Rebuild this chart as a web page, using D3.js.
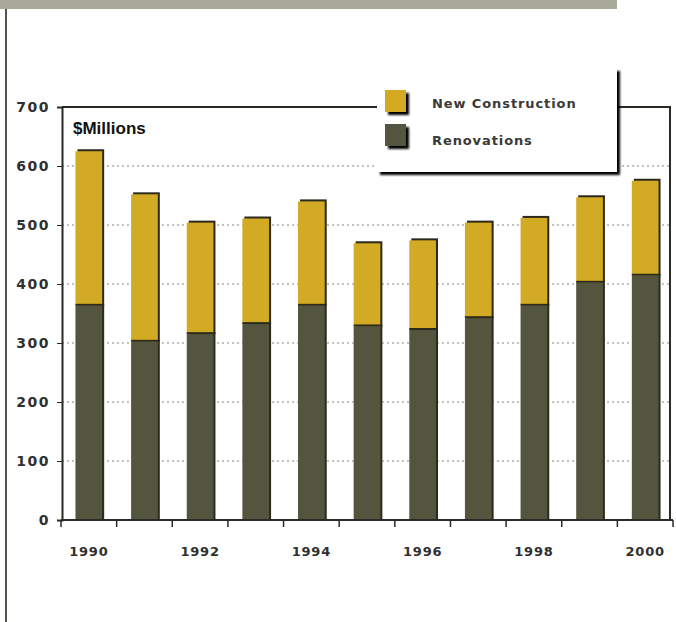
<!DOCTYPE html>
<html>
<head>
<meta charset="utf-8">
<script src="https://cdn.jsdelivr.net/npm/d3@7"></script>
<style>
  body { margin: 0; background: #fff; }
  svg { display: block; font-family: "Liberation Sans", Arial, sans-serif; }
</style>
</head>
<body>
<div id="chart"></div>
<script>
const years = [1990, 1991, 1992, 1993, 1994, 1995, 1996, 1997, 1998, 1999, 2000];
const renovations = [363, 302, 315, 332, 363, 328, 322, 342, 363, 402, 414];
const newConstruction = [262, 250, 189, 179, 177, 141, 152, 162, 149, 145, 161];
const yTicks = [0, 100, 200, 300, 400, 500, 600, 700];
const seriesNames = ["New Construction", "Renovations"];
const colors = { "New Construction": "#d3aa24", "Renovations": "#53553f" };

const W = 676, H = 622;
const svg = d3.select("#chart").append("svg").attr("width", W).attr("height", H);

const x = d3.scaleBand().domain(years).range([61, 673]).paddingInner(0.52).paddingOuter(0.26);
const y = d3.scaleLinear().domain([0, 700]).range([520, 107]);

const defs = svg.append("defs");
const f = defs.append("filter").attr("id", "shadow").attr("x", "-10%").attr("y", "-10%").attr("width", "130%").attr("height", "130%");
f.append("feGaussianBlur").attr("in", "SourceAlpha").attr("stdDeviation", 1.2);
f.append("feOffset").attr("dx", 3).attr("dy", 3).attr("result", "b");
const m = f.append("feMerge");
m.append("feMergeNode").attr("in", "b");
m.append("feMergeNode").attr("in", "SourceGraphic");

// page decoration
svg.append("rect").attr("x", 0).attr("y", 0).attr("width", 617).attr("height", 9).attr("fill", "#a9a99a");
svg.append("rect").attr("x", 5).attr("y", 9).attr("width", 2).attr("height", H - 9).attr("fill", "#55554a");

// gridlines
svg.append("g").selectAll("line").data(yTicks.filter(d => d > 0 && d < 700)).enter().append("line")
  .attr("x1", 62).attr("x2", 670)
  .attr("y1", d => y(d)).attr("y2", d => y(d))
  .attr("stroke", "#8a8a80").attr("stroke-width", 1.2).attr("stroke-dasharray", "2,3");

// frame top/right
svg.append("path").attr("d", `M62,${y(700)}H670V520`).attr("fill", "none").attr("stroke", "#2a2a25").attr("stroke-width", 2);

// bars
const stack = years.map((yr, i) => ({ year: yr, r: renovations[i], n: newConstruction[i] }));
const bars = svg.append("g");
bars.selectAll(".sh").data(stack).enter().append("rect")
  .attr("x", d => x(d.year) + 2).attr("y", d => y(d.r + d.n) - 2)
  .attr("width", x.bandwidth()).attr("height", d => 520 - y(d.r + d.n) + 2)
  .attr("fill", "#2c2a1c");
bars.selectAll(".nc").data(stack).enter().append("rect")
  .attr("x", d => x(d.year)).attr("y", d => y(d.r + d.n))
  .attr("width", x.bandwidth()).attr("height", d => y(d.r) - y(d.r + d.n))
  .attr("fill", colors["New Construction"]);
bars.selectAll(".rl").data(stack).enter().append("rect")
  .attr("x", d => x(d.year)).attr("y", d => y(d.r) - 2)
  .attr("width", x.bandwidth() + 2).attr("height", 2)
  .attr("fill", "#2c2a1c");
bars.selectAll(".rn").data(stack).enter().append("rect")
  .attr("x", d => x(d.year)).attr("y", d => y(d.r))
  .attr("width", x.bandwidth()).attr("height", d => 520 - y(d.r))
  .attr("fill", colors["Renovations"]);

// y axis
const yAxis = svg.append("g").attr("transform", "translate(62,0)")
  .call(d3.axisLeft(y).tickValues(yTicks).tickSize(5).tickPadding(7));
yAxis.select(".domain").attr("stroke", "#2a2a25").attr("stroke-width", 2);
yAxis.selectAll(".tick line").attr("stroke", "#2a2a25");
yAxis.selectAll("text").attr("font-family", "DejaVu Sans").attr("font-size", 14).attr("font-weight", "bold")
  .attr("letter-spacing", 1.5).attr("fill", "#303030");

// x axis
const xAxis = svg.append("g").attr("transform", "translate(0,520)")
  .call(d3.axisBottom(x).tickValues(years.filter(d => d % 2 === 0)).tickSize(0).tickPadding(27));
xAxis.select(".domain").attr("d", "M61,0H673").attr("stroke", "#2a2a25").attr("stroke-width", 2);
xAxis.selectAll("text").attr("font-family", "DejaVu Sans").attr("font-size", 13).attr("font-weight", "bold")
  .attr("letter-spacing", 0.8).attr("fill", "#303030");
svg.append("g").selectAll("line").data(d3.range(years.length + 1)).enter().append("line")
  .attr("x1", i => 61 + i * x.step()).attr("x2", i => 61 + i * x.step())
  .attr("y1", 520).attr("y2", 527).attr("stroke", "#2a2a25").attr("stroke-width", 1.5);

svg.append("text").attr("x", 73).attr("y", 134).attr("font-size", 17).attr("font-weight", "bold")
  .attr("fill", "#111").text("$Millions");

// legend
const lg = svg.append("g").attr("transform", "translate(377,68)");
lg.append("rect").attr("width", 240).attr("height", 104).attr("fill", "#fff").attr("filter", "url(#shadow)");
seriesNames.forEach((s, i) => {
  lg.append("rect").attr("x", 8).attr("y", 22 + i * 34).attr("width", 21).attr("height", 22)
    .attr("fill", colors[s]).attr("filter", "url(#shadow)");
  lg.append("text").attr("x", 55).attr("y", 40 + i * 37).attr("font-family", "DejaVu Sans")
    .attr("font-size", 13).attr("font-weight", "bold").attr("letter-spacing", 0.9)
    .attr("fill", "#3a3a36").text(s);
});
</script>
</body>
</html>
